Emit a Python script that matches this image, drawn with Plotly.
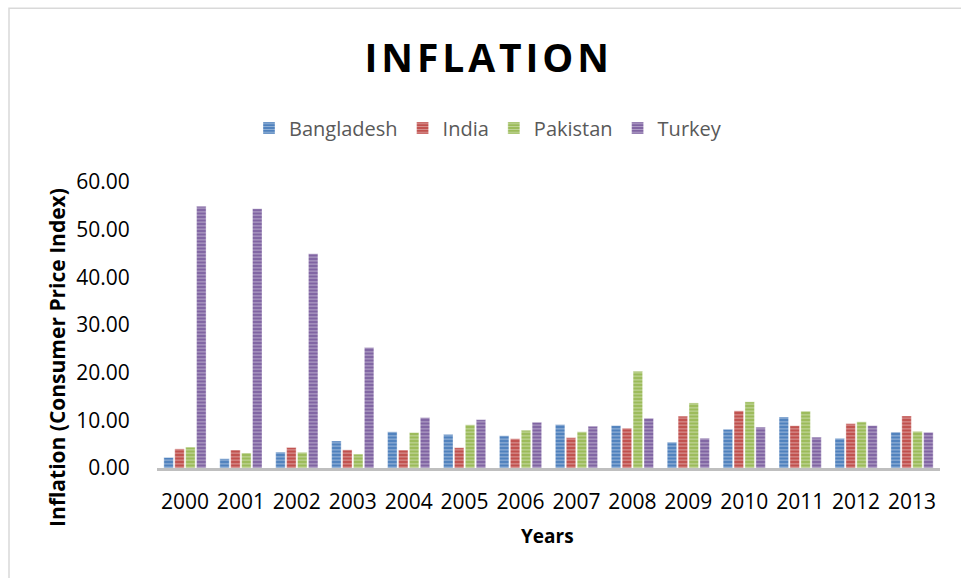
import plotly.graph_objects as go

years = ["2000", "2001", "2002", "2003", "2004", "2005", "2006",
         "2007", "2008", "2009", "2010", "2011", "2012", "2013"]
bangladesh = [2.21, 1.94, 3.33, 5.67, 7.59, 7.05, 6.77, 9.11, 8.90, 5.42, 8.13, 10.70, 6.22, 7.53]
india = [4.01, 3.78, 4.30, 3.81, 3.77, 4.25, 6.15, 6.37, 8.35, 10.88, 11.99, 8.86, 9.31, 10.91]
pakistan = [4.37, 3.15, 3.29, 2.91, 7.44, 9.06, 7.92, 7.60, 20.29, 13.65, 13.88, 11.92, 9.69, 7.69]
turkey = [54.92, 54.40, 44.96, 25.30, 10.58, 10.14, 9.60, 8.76, 10.44, 6.25, 8.57, 6.47, 8.89, 7.49]

series = [
    ("Bangladesh", bangladesh, "#4F81BD"),
    ("India", india, "#C0504D"),
    ("Pakistan", pakistan, "#9BBB59"),
    ("Turkey", turkey, "#8064A2"),
]

FONT = "Open Sans"

fig = go.Figure()
for name, vals, col in series:
    fig.add_trace(go.Bar(
        x=years, y=vals, name=name,
        marker=dict(
            color=col,
            line=dict(color="rgba(255,255,255,0.6)", width=0.6),
            pattern=dict(shape="-", fgcolor="white", fgopacity=0.45, size=3.5, solidity=0.3),
        ),
    ))

W, H = 961, 578
L, R, T, B = 157, 21, 181.7, 109.7
pw, ph = W - L - R, H - T - B

def px_x(x):
    return (x - L) / pw

def px_y(y):
    return (H - B - y) / ph

fig.update_layout(
    width=W, height=H,
    margin=dict(l=L, r=R, t=T, b=B),
    paper_bgcolor="white", plot_bgcolor="white",
    barmode="group", bargap=0.22, bargroupgap=0.13,
    font=dict(family=FONT, color="black"),
    title=dict(
        text="<b>" + "\u200a".join("INFLATION") + "</b>",
        x=486.7 / W, xanchor="center",
        y=1 - 58.5 / H, yanchor="middle", yref="container",
        font=dict(family=FONT, size=39, color="black"),
    ),
    legend=dict(
        orientation="h", x=488 / W, xref="container", xanchor="center",
        y=1 - 128 / H, yref="container", yanchor="middle",
        font=dict(family=FONT, size=20, color="#595959"),
        itemclick=False,
    ),
    xaxis=dict(
        showline=True, linecolor="#BFBFBF", linewidth=3,
        showgrid=False, zeroline=False,
        ticks="outside", ticklen=13, tickcolor="rgba(0,0,0,0)",
        tickfont=dict(family=FONT, size=21, color="black"),
    ),
    yaxis=dict(
        range=[0, 60], tickvals=[0, 10, 20, 30, 40, 50, 60], tickformat=".2f",
        showline=False, showgrid=False, zeroline=False,
        ticks="outside", ticklen=22, tickcolor="rgba(0,0,0,0)",
        tickfont=dict(family=FONT, size=21, color="black"),
    ),
    annotations=[
        dict(text="<b>Years</b>", x=px_x(547.5), y=px_y(536), xref="paper", yref="paper",
             xanchor="center", yanchor="middle", showarrow=False,
             font=dict(family=FONT, size=19, color="black")),
        dict(text="<b>Inflation (Consumer Price Index)</b>", textangle=-90,
             x=px_x(57), y=px_y(358), xref="paper", yref="paper",
             xanchor="center", yanchor="middle", showarrow=False,
             font=dict(family=FONT, size=21, color="black")),
    ],
    shapes=[
        dict(type="rect", xref="paper", yref="paper",
             x0=px_x(9), x1=px_x(1000), y0=px_y(620), y1=px_y(7.5),
             line=dict(color="#D9D9D9", width=1.5), fillcolor="rgba(0,0,0,0)", layer="below"),
    ],
)

fig.write_html("out.html")
